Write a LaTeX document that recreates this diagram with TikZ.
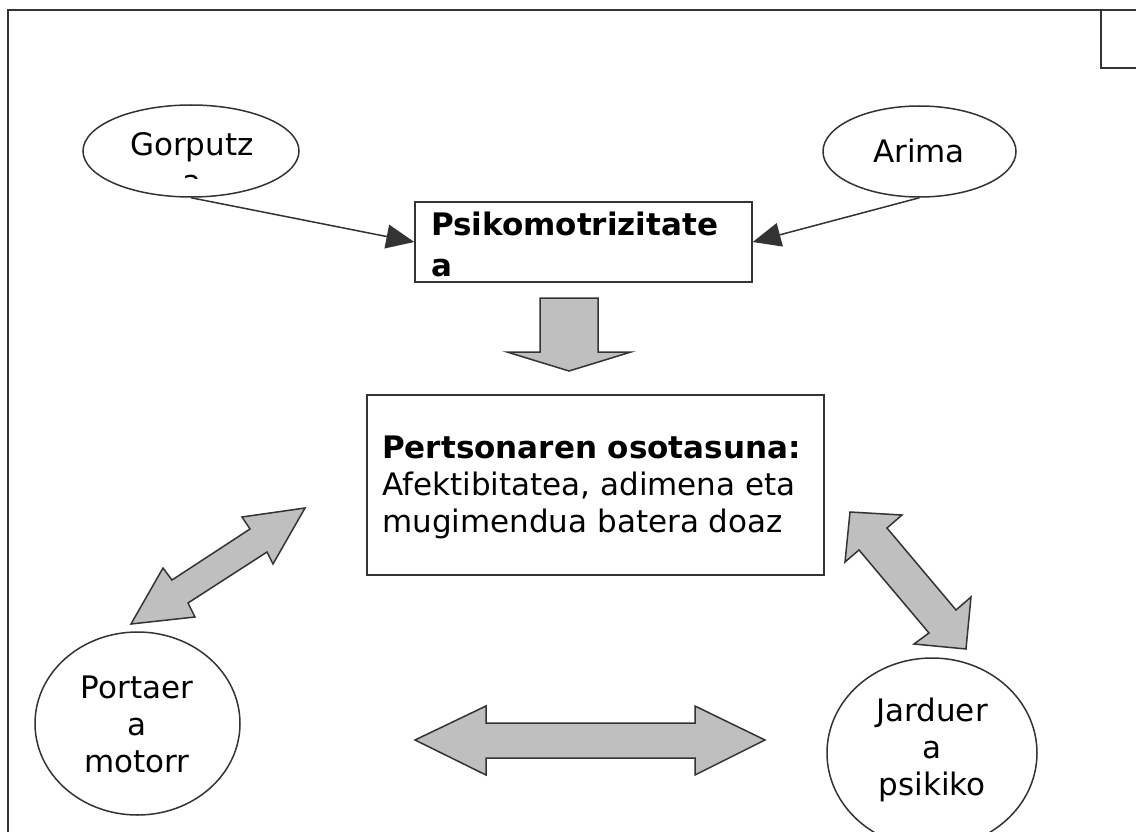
\documentclass[tikz,border=0pt]{standalone}
\usepackage{fontspec}
\setmainfont{DejaVu Sans}
\usetikzlibrary{arrows.meta,shapes.geometric}
\newcommand\dgfont{\fontsize{31}{37}\selectfont}
\tikzset{
  lineclr/.style={draw=black!80},
  framebox/.style={lineclr, line width=2pt},
  shapeline/.style={lineclr, line width=1.5pt},
  ell/.style={shapeline, ellipse, fill=white, inner sep=0pt},
  txt/.style={inner sep=0pt, anchor=base, font=\dgfont, text=black},
  txtl/.style={inner sep=0pt, anchor=base west, font=\dgfont, text=black},
  thinarrow/.style={lineclr, line width=1.5pt, -{Triangle[length=28pt,width=24pt]}, fill=black!80},
  blockarrow/.style={shapeline, fill=black!25, line join=miter},
}
\begin{document}
\begin{tikzpicture}[x=1pt,y=-1pt]
\useasboundingbox (0,0) rectangle (1136,832);
\clip (0,0) rectangle (1136,832);
\fill[white] (0,0) rectangle (1136,832);
% outer frame and corner box
\draw[framebox] (8,10) rectangle (1220,900);
\draw[framebox] (1101,10) rectangle (1220,68);

% ellipses
\node[ell, minimum width=216pt, minimum height=92pt] (gorputz) at (191,151) {};
\node[ell, minimum width=193pt, minimum height=91pt] (arima) at (919.5,151.5) {};
\node[ell, minimum width=205pt, minimum height=183pt] (portaera) at (137.5,723.5) {};
\node[ell, minimum width=210pt, minimum height=190pt] (jarduera) at (932,753) {};

\node[txt] (tgor) at (192,156) {Gorputz};
\begin{scope}
  \clip (150,160) rectangle (240,179);
  \node[txt] (tgora) at (192,193) {a};
\end{scope}
\node[txt] (tarima) at (919,163) {Arima};
\node[txt] (tport1) at (137,698) {Portaer};
\node[txt] (tport2) at (137,735) {a};
\node[txt] (tport3) at (137,772) {motorr};
\node[txt] (tjard1) at (932,721) {Jarduer};
\node[txt] (tjard2) at (932,758) {a};
\node[txt] (tjard3) at (932,795) {psikiko};

% Psikomotrizitatea box
\node[shapeline, draw, fill=white, minimum width=337pt, minimum height=80pt, inner sep=0pt] (psiko) at (583.5,242) {};
\node[txtl, font=\dgfont\bfseries] (tpsi1) at (431,235) {Psikomotrizitate};
\node[txtl, font=\dgfont\bfseries] (tpsi2) at (431,276) {a};

% main box
\node[shapeline, draw, fill=white, minimum width=457pt, minimum height=180pt, inner sep=0pt] (osot) at (595.5,485) {};
\node[txtl, font=\dgfont\bfseries] (tos1) at (382,458) {Pertsonaren osotasuna:};
\node[txtl] (tos2) at (382,495) {Afektibitatea, adimena eta};
\node[txtl] (tos3) at (382,532) {mugimendua batera doaz};

% thin arrows
\draw[thinarrow] (gorputz.south) -- (psiko.west);
\draw[thinarrow] (arima.south) -- (psiko.east);

% block arrows
\draw[blockarrow] (540,298) -- (598,298) -- (598,352) -- (631,352) -- (569,371) -- (507,352) -- (540,352) -- cycle;
\draw[blockarrow] (305,508) -- (242,517) -- (250,529) -- (172,580) -- (163,568) -- (131,624) -- (195,617) -- (188,603) -- (267,552) -- (273,564) -- cycle;
\draw[blockarrow] (850,512) -- (902,515) -- (887,528) -- (956,610) -- (971,597) -- (966,649) -- (914,644) -- (929,633) -- (859,550) -- (845,562) -- cycle;
\draw[blockarrow] (415,740) -- (486,706) -- (486,723) -- (695,723) -- (695,706) -- (765,740) -- (695,775) -- (695,758) -- (486,758) -- (486,775) -- cycle;
\end{tikzpicture}
\end{document}
